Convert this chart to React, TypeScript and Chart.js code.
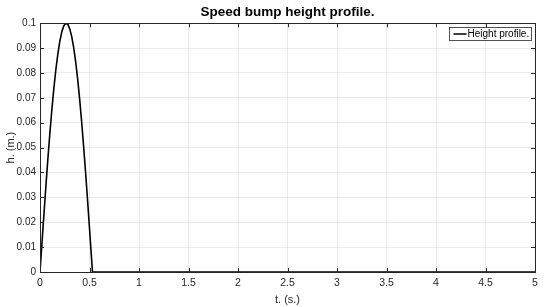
import React, { useEffect, useRef } from "react";
import { Chart, registerables } from "chart.js";

Chart.register(...registerables);

const timeValues = [0, 0.02, 0.04, 0.06, 0.08, 0.1, 0.12, 0.14, 0.16, 0.18, 0.2, 0.22, 0.24, 0.26, 0.28, 0.3, 0.32, 0.34, 0.36, 0.38, 0.4, 0.42, 0.44, 0.46, 0.48, 0.5, 0.52, 0.53, 5];
const heightValues = [0, 0.0118, 0.0233, 0.0348, 0.0457, 0.0559, 0.0653, 0.0738, 0.0813, 0.0876, 0.0927, 0.0965, 0.0989, 0.1, 0.0996, 0.0978, 0.0947, 0.0903, 0.0846, 0.0777, 0.0697, 0.0607, 0.0508, 0.0403, 0.0291, 0.0176, 0.0059, 0, 0];
const seriesLabel = "Height profile.";
const titleText = "Speed bump height profile.";
const xTitle = "t. (s.)";
const yTitle = "h. (m.)";

const FONT = "'Liberation Sans', Arial, Helvetica, sans-serif";
const AXIS_COLOR = "#262626";

const framePlugin = {
  id: "frame",
  afterDraw(chart: any) {
    const { ctx, chartArea } = chart;
    const { left, right, top, bottom } = chartArea;
    const xs = chart.scales.x;
    const ys = chart.scales.y;
    ctx.save();
    ctx.strokeStyle = AXIS_COLOR;
    ctx.lineWidth = 1;
    ctx.beginPath();
    const tl = 4;
    xs.ticks.forEach((t: any) => {
      const px = Math.round(xs.getPixelForValue(t.value)) + 0.5;
      ctx.moveTo(px, bottom);
      ctx.lineTo(px, bottom - tl);
      ctx.moveTo(px, top);
      ctx.lineTo(px, top + tl);
    });
    ys.ticks.forEach((t: any) => {
      const py = Math.round(ys.getPixelForValue(t.value)) + 0.5;
      ctx.moveTo(left, py);
      ctx.lineTo(left + tl, py);
      ctx.moveTo(right, py);
      ctx.lineTo(right - tl, py);
    });
    ctx.stroke();
    ctx.strokeRect(Math.round(left) + 0.5, Math.round(top) + 0.5, Math.round(right - left), Math.round(bottom - top));

    // legend
    const bx = 449.5, by = 27.5, bw = 82, bh = 13;
    ctx.fillStyle = "#ffffff";
    ctx.fillRect(bx, by, bw, bh);
    ctx.strokeStyle = "#262626";
    ctx.lineWidth = 0.8;
    ctx.strokeRect(bx, by, bw, bh);
    ctx.strokeStyle = "#000000";
    ctx.lineWidth = 1.5;
    ctx.beginPath();
    ctx.moveTo(bx + 4, by + bh / 2);
    ctx.lineTo(bx + 17, by + bh / 2);
    ctx.stroke();
    ctx.fillStyle = "#000000";
    ctx.font = `10px ${FONT}`;
    ctx.textBaseline = "middle";
    ctx.textAlign = "left";
    ctx.fillText(seriesLabel, bx + 18, by + bh / 2 + 0.5);
    ctx.restore();
  },
};

export default function App() {
  const ref = useRef<HTMLCanvasElement>(null);
  useEffect(() => {
    const canvas = ref.current;
    if (!canvas) return;
    const data = timeValues.map((t, i) => ({ x: t, y: heightValues[i] }));
    const chart = new Chart(canvas, {
      type: "line",
      data: {
        datasets: [
          {
            label: seriesLabel,
            data,
            borderColor: "#000000",
            borderWidth: 1.6,
            pointRadius: 0,
            tension: 0,
            fill: false,
          },
        ],
      },
      options: {
        animation: false,
        responsive: false,
        maintainAspectRatio: false,
        layout: { padding: { left: 0, right: 15, top: 0, bottom: 0 } },
        plugins: {
          legend: { display: false },
          tooltip: { enabled: false },
          title: {
            display: true,
            text: titleText,
            fullSize: false,
            color: "#000000",
            font: { family: FONT, size: 13.5, weight: "bold" },
            padding: { top: 4, bottom: 3 },
          },
        },
        scales: {
          x: {
            type: "linear",
            min: 0,
            max: 5,
            grid: { color: "rgba(0,0,0,0.08)", drawTicks: false },
            border: { display: false },
            ticks: {
              stepSize: 0.5,
              color: AXIS_COLOR,
              padding: 5,
              maxRotation: 0,
              font: { family: FONT, size: 10.5 },
              callback: (v: any) => String(Number(Number(v).toFixed(2))),
            },
            title: {
              display: true,
              text: xTitle,
              color: AXIS_COLOR,
              font: { family: FONT, size: 11 },
              padding: { top: 0, bottom: 0 },
            },
            afterFit: (s: any) => {
              s.height = 35;
            },
          },
          y: {
            type: "linear",
            min: 0,
            max: 0.1,
            grid: { color: "rgba(0,0,0,0.08)", drawTicks: false },
            border: { display: false },
            ticks: {
              stepSize: 0.01,
              color: AXIS_COLOR,
              padding: 4,
              font: { family: FONT, size: 10 },
              callback: (v: any) => String(Number(Number(v).toFixed(2))),
            },
            title: {
              display: true,
              text: yTitle,
              color: AXIS_COLOR,
              font: { family: FONT, size: 11 },
              padding: { top: 4, bottom: 0 },
            },
            afterFit: (s: any) => {
              s.width = 40;
            },
          },
        },
      },
      plugins: [framePlugin],
    });
    return () => chart.destroy();
  }, []);
  return (
    <div style={{ position: "absolute", left: 0, top: 0, width: 550, height: 307, background: "#fff" }}>
      <canvas ref={ref} width={550} height={307} style={{ display: "block" }} />
    </div>
  );
}
